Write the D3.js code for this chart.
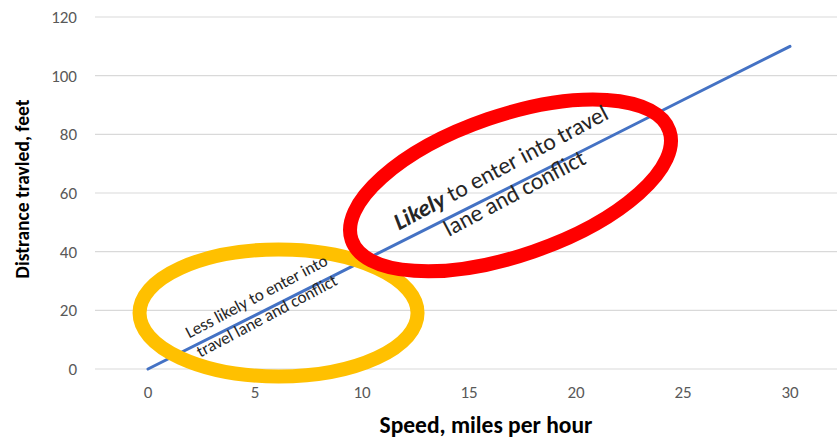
<!DOCTYPE html>
<html><head><meta charset="utf-8">
<script src="https://cdn.jsdelivr.net/npm/d3@7"></script>
<style>body{margin:0;background:#fff}svg{display:block}</style>
</head><body>
<svg id="c" width="837" height="440"></svg>
<script>
const speeds = [0, 5, 10, 15, 20, 25, 30];
const distances = [0, 18.3, 36.7, 55, 73.3, 91.7, 110];
const xTicks = [0, 5, 10, 15, 20, 25, 30];
const yTicks = [0, 20, 40, 60, 80, 100, 120];
const xTitle = "Speed, miles per hour";
const yTitle = "Distrance travled, feet";
const lowLabel = ["Less likely to enter into", "travel lane and conflict"];
const highLabelBold = "Likely";
const highLabelRest = " to enter into travel";
const highLabel2 = "lane and conflict";
// ellipse centres in data units
const lowZone = {cx: 6.1, cy: 19.1};
const highZone = {cx: 16.94, cy: 62.6};

const svg = d3.select("#c");
const x = d3.scaleLinear().domain([0, 30]).range([148, 790]);
const y = d3.scaleLinear().domain([0, 120]).range([369, 17]);
const font = "Carlito, Lato, 'Open Sans', 'Liberation Sans', sans-serif";

// gridlines
svg.append("g").selectAll("line").data(yTicks).join("line")
  .attr("x1", 95).attr("x2", 837)
  .attr("y1", d => y(d)).attr("y2", d => y(d))
  .attr("stroke", "#d9d9d9").attr("stroke-width", 1.2);

// y tick labels
svg.append("g").selectAll("text").data(yTicks).join("text")
  .attr("x", 77).attr("y", d => y(d)).attr("dy", "0.35em")
  .attr("text-anchor", "end").attr("fill", "#595959")
  .attr("font-family", font).attr("font-size", 17).text(d => d);

// x tick labels
svg.append("g").selectAll("text").data(xTicks).join("text")
  .attr("x", d => x(d)).attr("y", 398)
  .attr("text-anchor", "middle").attr("fill", "#595959")
  .attr("font-family", font).attr("font-size", 17).text(d => d);

// axis titles
svg.append("text").attr("x", 486).attr("y", 433).attr("text-anchor", "middle")
  .attr("font-family", font).attr("font-weight", "bold").attr("font-size", 23.5)
  .attr("fill", "#000").text(xTitle);
svg.append("text").attr("transform", "translate(29,189) rotate(-90)")
  .attr("text-anchor", "middle")
  .attr("font-family", font).attr("font-weight", "bold").attr("font-size", 19.5)
  .attr("fill", "#000").text(yTitle);

// line
const line = d3.line().x((d, i) => x(speeds[i])).y(d => y(d));
svg.append("path").datum(distances).attr("d", line)
  .attr("fill", "none").attr("stroke", "#4472C4").attr("stroke-width", 3)
  .attr("stroke-linecap", "round");

// yellow ellipse
svg.append("ellipse").attr("cx", x(lowZone.cx)).attr("cy", y(lowZone.cy))
  .attr("rx", 139).attr("ry", 63.5)
  .attr("fill", "none").attr("stroke", "#FFC000").attr("stroke-width", 14);

// red ellipse
svg.append("ellipse")
  .attr("transform", `translate(${x(highZone.cx)},${y(highZone.cy)}) rotate(-19)`)
  .attr("rx", 168).attr("ry", 70)
  .attr("fill", "none").attr("stroke", "#FF0000").attr("stroke-width", 14);

// low-zone label
const ang = -28;
const lowG = svg.append("g").attr("transform", `translate(${x(lowZone.cx) - 19.5},${y(lowZone.cy) - 11.5}) rotate(${ang})`);
lowG.selectAll("text").data(lowLabel).join("text")
  .attr("x", 0).attr("y", (d, i) => i * 22)
  .attr("text-anchor", "middle").attr("fill", "#262626")
  .attr("font-family", font).attr("font-size", 17).text(d => d);

// high-zone label
const highG = svg.append("g").attr("transform", `translate(${x(highZone.cx) - 6},${y(highZone.cy) - 11}) rotate(${ang})`);
const t1 = highG.append("text").attr("x", 0).attr("y", 0).attr("text-anchor", "middle")
  .attr("fill", "#262626").attr("font-family", font).attr("font-size", 23.5);
t1.append("tspan").attr("font-weight", "bold").attr("font-style", "italic").text(highLabelBold);
t1.append("tspan").text(highLabelRest);
highG.append("text").attr("x", 0).attr("y", 29).attr("text-anchor", "middle")
  .attr("fill", "#262626").attr("font-family", font).attr("font-size", 23.5).text(highLabel2);
</script>
</body></html>
